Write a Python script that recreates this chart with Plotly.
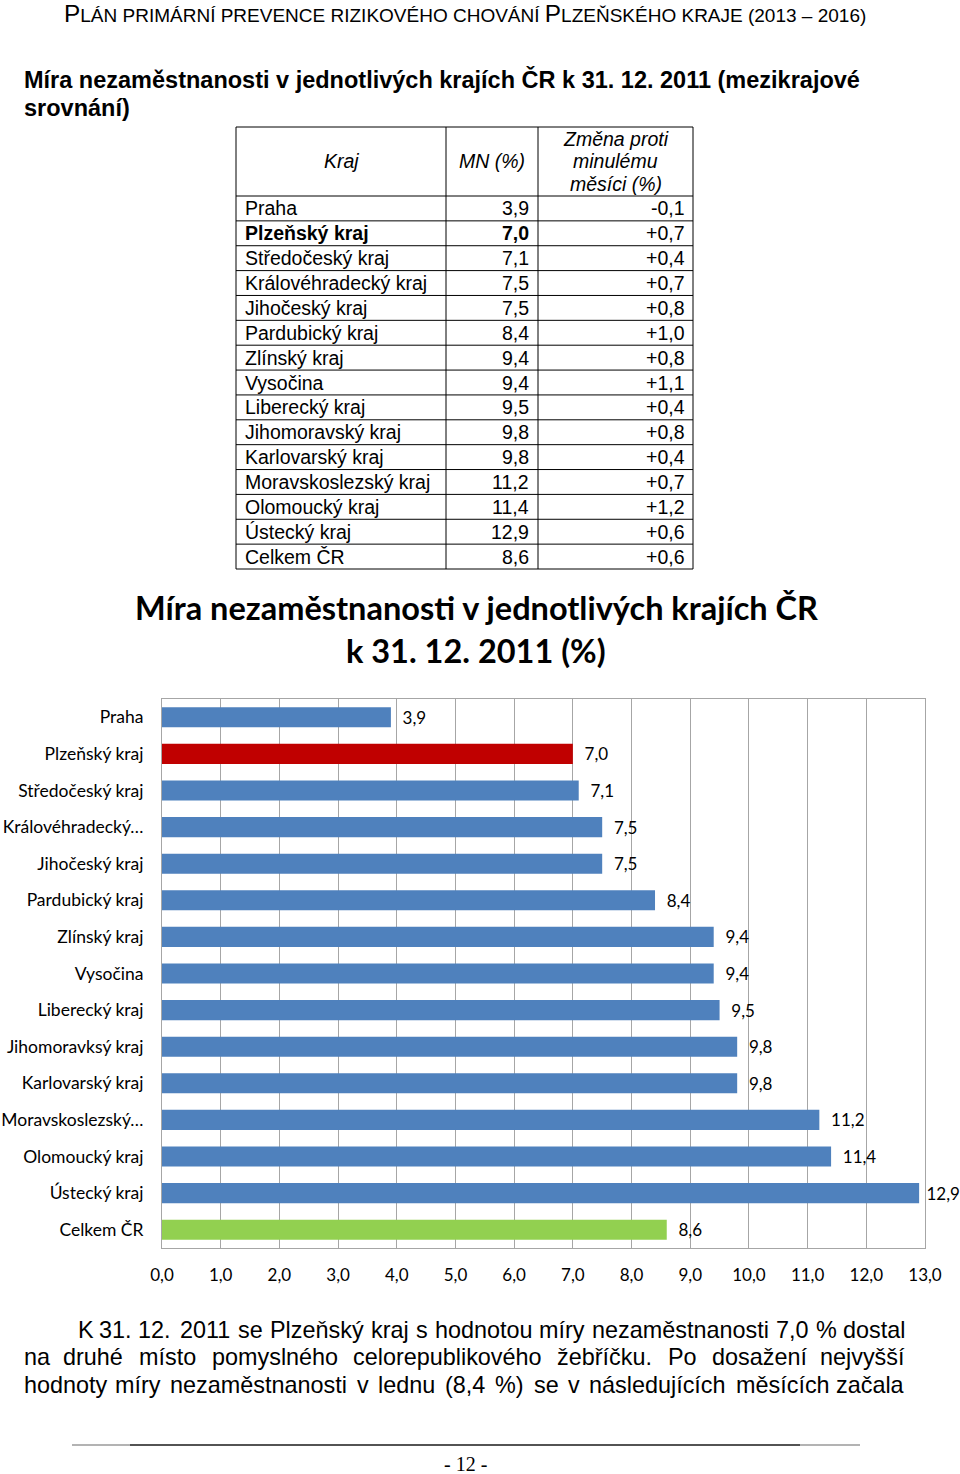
import plotly.graph_objects as go

W, H = 960, 1474


def fx(x):
    return x / W


def fy(y):
    return 1 - y / H


# ---------------- data ----------------
table_kraj = ["Praha", "Plzeňský kraj", "Středočeský kraj", "Královéhradecký kraj",
              "Jihočeský kraj", "Pardubický kraj", "Zlínský kraj", "Vysočina",
              "Liberecký kraj", "Jihomoravský kraj", "Karlovarský kraj",
              "Moravskoslezský kraj", "Olomoucký kraj", "Ústecký kraj", "Celkem ČR"]
table_mn = [3.9, 7.0, 7.1, 7.5, 7.5, 8.4, 9.4, 9.4, 9.5, 9.8, 9.8, 11.2, 11.4, 12.9, 8.6]
table_change = [-0.1, 0.7, 0.4, 0.7, 0.8, 1.0, 0.8, 1.1, 0.4, 0.8, 0.4, 0.7, 1.2, 0.6, 0.6]
table_header = ["Kraj", "MN (%)", ["Změna proti", "minulému", "měsíci (%)"]]

chart_labels = ["Praha", "Plzeňský kraj", "Středočeský kraj", "Královéhradecký…",
                "Jihočeský kraj", "Pardubický kraj", "Zlínský kraj", "Vysočina",
                "Liberecký kraj", "Jihomoravksý kraj", "Karlovarský kraj",
                "Moravskoslezský…", "Olomoucký kraj", "Ústecký kraj", "Celkem ČR"]
chart_values = [3.9, 7.0, 7.1, 7.5, 7.5, 8.4, 9.4, 9.4, 9.5, 9.8, 9.8, 11.2, 11.4, 12.9, 8.6]
highlight = "Plzeňský kraj"
total = "Celkem ČR"

x_ticks = [0, 1, 2, 3, 4, 5, 6, 7, 8, 9, 10, 11, 12, 13]

header_line = "PLÁN PRIMÁRNÍ PREVENCE RIZIKOVÉHO CHOVÁNÍ PLZEŇSKÉHO KRAJE (2013 – 2016)"
section_title = ["Míra nezaměstnanosti v jednotlivých krajích ČR k 31. 12. 2011 (mezikrajové",
                 "srovnání)"]
chart_title = ["Míra nezaměstnanosti v jednotlivých krajích ČR", "k 31. 12. 2011 (%)"]
para_lines = [
    "K 31. 12. 2011 se Plzeňský kraj s hodnotou míry nezaměstnanosti 7,0 % dostal",
    "na druhé místo pomyslného celorepublikového žebříčku. Po dosažení nejvyšší",
    "hodnoty míry nezaměstnanosti v lednu (8,4 %) se v následujících měsících začala",
]
page_number = "- 12 -"

# ---------------- colours / fonts ----------------
BLUE = "#4f81bd"
RED = "#c00000"
GREEN = "#92d050"
GRID = "#a6a6a6"
ARIAL = "Liberation Sans, Arial, sans-serif"
CALIBRI = "Lato, Carlito, Calibri, sans-serif"
SERIF = "Liberation Serif, Times New Roman, serif"

annotations = []
shapes = []


def ann(x, y, text, size, family=ARIAL, xanchor="left", yanchor="middle", color="black"):
    annotations.append(dict(x=fx(x), y=fy(y), xref="paper", yref="paper", text=text,
                            showarrow=False, xanchor=xanchor, yanchor=yanchor,
                            font=dict(family=family, size=size, color=color)))


def line(x0, y0, x1, y1, color="black", width=1):
    shapes.append(dict(type="line", xref="paper", yref="paper", x0=fx(x0), y0=fy(y0),
                       x1=fx(x1), y1=fy(y1), line=dict(color=color, width=width)))


# Arial advance widths (1/1000 em) for justified paragraph layout
_AW = {'a': 556, 'b': 556, 'c': 500, 'd': 556, 'e': 556, 'f': 278, 'g': 556, 'h': 556,
       'i': 222, 'j': 222, 'k': 500, 'l': 222, 'm': 833, 'n': 556, 'o': 556, 'p': 556,
       'q': 556, 'r': 333, 's': 500, 't': 278, 'u': 556, 'v': 500, 'w': 722, 'x': 500,
       'y': 500, 'z': 500, 'K': 667, 'P': 667, '.': 278, ',': 278, '%': 889, '(': 333,
       ')': 333, 'í': 278, 'á': 556, 'é': 556, 'ě': 556, 'š': 500, 'ž': 500, 'ř': 333,
       'č': 500, 'ý': 500, 'ň': 556, 'ů': 556, 'ú': 556}


def text_w(s, size):
    return sum(556 if ch.isdigit() else _AW.get(ch, 556) for ch in s) * size / 1000


def justified(text, x0, x1, y, size):
    words = text.split(" ")
    widths = [text_w(w, size) for w in words]
    gap = (x1 - x0 - sum(widths)) / (len(words) - 1)
    x = x0
    for i, (w, ww) in enumerate(zip(words, widths)):
        if i == 0:
            ann(x0, y, w, size, xanchor="left")
        elif i == len(words) - 1:
            ann(x1, y, w, size, xanchor="right")
        else:
            ann(x + ww / 2, y, w, size, xanchor="center")
        x += ww + gap


# ---------------- page header (small caps) ----------------
def small_caps(s, big):
    out = []
    first = True
    for word in s.split(" "):
        if word and word[0].isalpha() and (first or word.startswith("PLZ")):
            out.append(f'<span style="font-size:{big}px">{word[0]}</span>{word[1:]}')
        else:
            out.append(word)
        first = False
    return " ".join(out)


ann(62, 13, small_caps(header_line, 24.4), 19.0)

# ---------------- section title ----------------
ann(22, 80, "<b>" + section_title[0] + "</b>", 23.5)
ann(22, 108, "<b>" + section_title[1] + "</b>", 23.5)

# ---------------- table ----------------
col_x = [236, 446, 538, 693]
t_top, h_bot = 127, 196
rh = (569 - 196) / len(table_kraj)
t_bot = h_bot + rh * len(table_kraj)
for cx in col_x:
    line(cx, t_top, cx, t_bot)
line(col_x[0], t_top, col_x[-1], t_top)
for k in range(len(table_kraj) + 1):
    yy = h_bot + k * rh
    line(col_x[0], yy, col_x[-1], yy)

TF = 19.5
ann((col_x[0] + col_x[1]) / 2, 161, "<i>" + table_header[0] + "</i>", TF, xanchor="center")
ann((col_x[1] + col_x[2]) / 2, 161, "<i>" + table_header[1] + "</i>", TF, xanchor="center")
for t, yy in zip(table_header[2], [139, 161, 184]):
    ann((col_x[2] + col_x[3]) / 2, yy, "<i>" + t + "</i>", TF, xanchor="center")

for i, (k, mn, ch) in enumerate(zip(table_kraj, table_mn, table_change)):
    yc = h_bot + (i + 0.5) * rh
    mn_s = f"{mn:.1f}".replace(".", ",")
    ch_s = f"{ch:+.1f}".replace(".", ",")
    if k == highlight:
        k_s, mn_s = "<b>" + k + "</b>", "<b>" + mn_s + "</b>"
    else:
        k_s = k
    ann(col_x[0] + 7, yc, k_s, TF)
    ann(col_x[2] - 7, yc, mn_s, TF, xanchor="right")
    ann(col_x[3] - 6, yc, ch_s, TF, xanchor="right")

# ---------------- chart title ----------------
ann(476, 607, "<b>" + chart_title[0] + "</b>", 32.5, family=CALIBRI, xanchor="center")
ann(476, 650, "<b>" + chart_title[1] + "</b>", 32.5, family=CALIBRI, xanchor="center")

# ---------------- paragraph (justified) ----------------
PF = 23.4
justified(para_lines[0], 76, 907, 1330, PF)
justified(para_lines[1], 22, 907, 1357, PF)
justified(para_lines[2], 22, 907, 1385, PF)

# ---------------- footer ----------------
line(72, 1445, 860, 1445, color="#9a9a9a", width=1.5)
line(130, 1445, 800, 1445, color="#333333", width=1.5)
ann(465, 1464, page_number, 20, family=SERIF, xanchor="center")

# ---------------- bar chart ----------------
colors = [RED if c == highlight else GREEN if c == total else BLUE for c in table_kraj]
# label offset: labels that would run past the page edge sit closer to their bar
label_text = [("\u00a0" if v > 12.5 else "\u00a0\u00a0") + f"{v:.1f}".replace(".", ",")
              for v in chart_values]

fig = go.Figure()
fig.add_trace(go.Bar(
    x=chart_values, y=chart_labels, orientation="h",
    marker=dict(color=colors, line=dict(width=0)),
    width=0.55,
    text=label_text, texttemplate="%{text}", textposition="outside",
    cliponaxis=False, constraintext="none",
    textfont=dict(family=CALIBRI, size=17, color="black"),
    hoverinfo="skip",
))

fig.update_layout(
    width=W, height=H,
    margin=dict(l=0, r=0, t=0, b=0, autoexpand=False),
    paper_bgcolor="white", plot_bgcolor="white",
    showlegend=False,
    separators=",.",
    annotations=annotations,
    shapes=shapes,
    xaxis=dict(domain=[fx(162), fx(925)], range=[0, 13], tickvals=x_ticks,
               tickformat=".1f", showgrid=True, gridcolor=GRID, gridwidth=1,
               showline=True, linecolor=GRID, linewidth=1, mirror=True,
               zeroline=False, ticks="", ticklabelstandoff=12, automargin=False,
               tickfont=dict(family=CALIBRI, size=17, color="black"), fixedrange=True),
    yaxis=dict(domain=[fy(1248), fy(699)], autorange="reversed",
               showline=True, linecolor=GRID, linewidth=1, mirror=True,
               showgrid=False, ticks="", ticklabelstandoff=14, automargin=False,
               tickfont=dict(family=CALIBRI, size=17.5, color="black"), fixedrange=True),
)

fig.write_html("out.html")
